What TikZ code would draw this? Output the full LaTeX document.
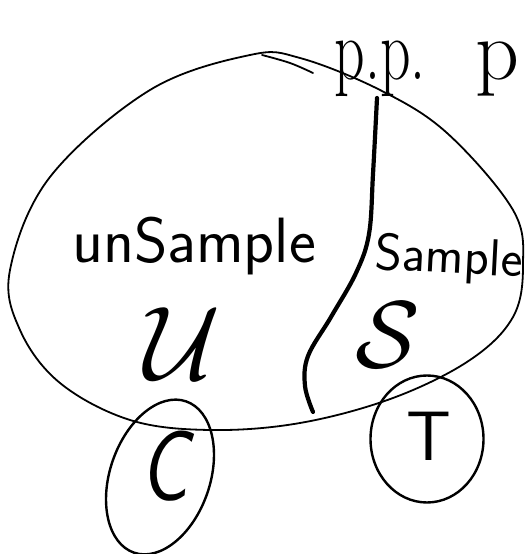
\documentclass[tikz,border=0pt]{standalone}
\usepackage{amsmath}
\usetikzlibrary{shapes.geometric}
\begin{document}
\begin{tikzpicture}[x=1pt,y=1pt,
  outline/.style={line width=1.8pt,line cap=round,line join=round},
  ring/.style={draw,line width=2.4pt},
  hand/.style={inner sep=0pt,font=\sffamily},
  divider/.style={line width=4.2pt,line cap=round}]
\useasboundingbox (0,0) rectangle (532,554);

% population outline
\draw[outline] plot[smooth cycle,tension=0.6] coordinates {
  (10,284) (50,377) (150,464) (250,499) (300,496) (380,464) (447,421)
  (513,344) (523,289) (513,237) (470,194) (393,156) (300,131) (210,124)
  (130,134) (60,171) (20,224)};
% overlapping start of the stroke
\draw[outline] plot[smooth,tension=0.6] coordinates {(262,499) (290,491) (313,481)};

% boundary between the two parts
\draw[divider] plot[smooth,tension=0.6] coordinates {
  (377,456) (373,380) (369,320) (356,281) (331,237) (308,198) (305,168) (313,142)};

% labels
\node[hand,font=\fontsize{88}{88}\selectfont\rmfamily,xscale=0.68,anchor=base] (pp) at (380,474) {p.p.};
\node[hand,font=\fontsize{86}{86}\selectfont\rmfamily,anchor=base] (pl) at (497,474) {p};
\node[hand,font=\fontsize{64}{64}\selectfont\sffamily,anchor=base] (uns) at (194,291) {unSample};
\node[hand,font=\fontsize{52}{52}\selectfont\sffamily,anchor=base,rotate=-3] (sam) at (448,281) {Sample};
\node[inner sep=0pt,scale=10.5] (U) at (183,210) {$\mathcal{U}$};
\node[inner sep=0pt,scale=9.5] (S) at (388,219) {$\mathcal{S}$};

% bottom groups
\node[ring,ellipse,minimum width=100pt,minimum height=160pt,rotate=-19,inner sep=0pt] (Cring) at (160,77) {};
\node[hand,font=\fontsize{100}{100}\selectfont\sffamily\itshape,xscale=0.8] (C) at (165,88) {C};
\node[ring,ellipse,minimum width=113pt,minimum height=127pt,inner sep=0pt] (Tring) at (427,115) {};
\node[hand,font=\fontsize{70}{70}\selectfont\sffamily] (T) at (429,118) {T};
\end{tikzpicture}
\end{document}
